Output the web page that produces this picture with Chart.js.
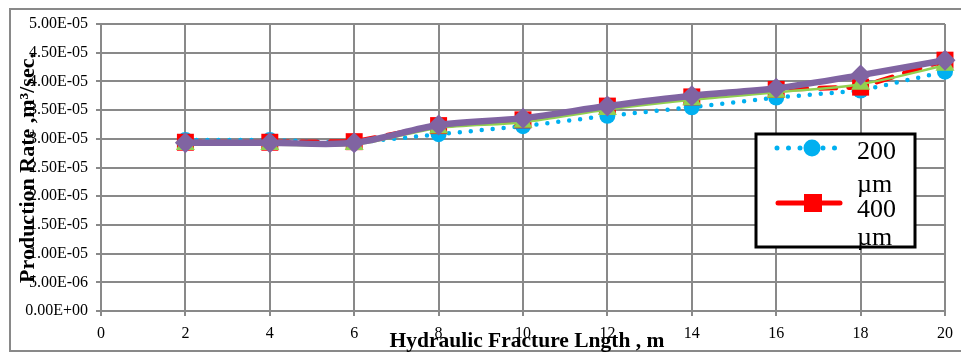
<!DOCTYPE html>
<html><head><meta charset="utf-8">
<script src="https://cdn.jsdelivr.net/npm/chart.js@4.4.1/dist/chart.umd.min.js"></script>
<style>html,body{margin:0;padding:0;background:#fff;} canvas{display:block;}</style>
</head><body>
<canvas id="c" width="961" height="352"></canvas>
<script>
// ---- data ----
const fractureLength = [2, 4, 6, 8, 10, 12, 14, 16, 18, 20];
const rate200um = [2.98e-5, 2.98e-5, 2.93e-5, 3.08e-5, 3.22e-5, 3.40e-5, 3.55e-5, 3.72e-5, 3.84e-5, 4.17e-5];
const rate400um = [2.94e-5, 2.94e-5, 2.95e-5, 3.23e-5, 3.33e-5, 3.57e-5, 3.73e-5, 3.86e-5, 3.90e-5, 4.37e-5];
const rate600um = [2.90e-5, 2.90e-5, 2.90e-5, 3.19e-5, 3.29e-5, 3.51e-5, 3.68e-5, 3.81e-5, 3.95e-5, 4.28e-5];
const rate800um = [2.93e-5, 2.93e-5, 2.93e-5, 3.24e-5, 3.36e-5, 3.57e-5, 3.75e-5, 3.88e-5, 4.11e-5, 4.37e-5];
const seriesNames = ["200 \u00b5m", "400 \u00b5m", "600 \u00b5m", "800 \u00b5m"];
const legendLines = [["200", "\u00b5m"], ["400", "\u00b5m"]];
const xAxisTitle = "Hydraulic Fracture Lngth , m";
const yAxisTitle = "Production Rate ,m\u00b3/sec.";

const FONT = "'Liberation Serif','Times New Roman',serif";
Chart.defaults.font.family = FONT;
Chart.defaults.color = '#000';

function pts(ys) { return fractureLength.map((x, i) => ({ x: x, y: ys[i] })); }
function sci(v) {
  if (Math.abs(v) < 1e-15) return '0.00E+00';
  let e = Math.floor(Math.log10(Math.abs(v)) + 1e-9);
  let m = v / Math.pow(10, e);
  if (Math.abs(m) >= 9.995) { m /= 10; e += 1; }
  const s = e < 0 ? '-' : '+';
  const a = Math.abs(e);
  return m.toFixed(2) + 'E' + s + (a < 10 ? '0' + a : '' + a);
}

const GRID = '#898989';

const decor = {
  id: 'decor',
  beforeDraw(chart) {
    const ctx = chart.ctx;
    ctx.save();
    ctx.fillStyle = '#fff';
    ctx.fillRect(0, 0, chart.width, chart.height);
    ctx.strokeStyle = GRID;
    ctx.lineWidth = 2;
    ctx.beginPath();
    ctx.moveTo(961, 9); ctx.lineTo(10, 9); ctx.lineTo(10, 351); ctx.lineTo(961, 351);
    ctx.stroke();
    ctx.restore();
  },
  afterDraw(chart) {
    const ctx = chart.ctx;
    ctx.save();
    // axis titles
    ctx.fillStyle = '#000';
    ctx.font = "bold 21.5px " + FONT;
    ctx.textAlign = 'center';
    ctx.textBaseline = 'alphabetic';
    ctx.fillText(xAxisTitle, 527, 347);
    ctx.save();
    ctx.translate(34, 168);
    ctx.rotate(-Math.PI / 2);
    ctx.font = "bold 22px " + FONT;
    ctx.fillText(yAxisTitle, 0, 0);
    ctx.restore();

    // legend
    const bx = 756, by = 134, bw = 159, bh = 113;
    ctx.fillStyle = '#fff';
    ctx.fillRect(bx, by, bw, bh);
    // entry 1: blue dotted w/ circle
    ctx.strokeStyle = '#00B0F0';
    ctx.lineWidth = 5;
    ctx.lineCap = 'round';
    ctx.setLineDash([0, 11.5]);
    ctx.beginPath(); ctx.moveTo(777, 148); ctx.lineTo(841, 148); ctx.stroke();
    ctx.setLineDash([]);
    ctx.fillStyle = '#00B0F0';
    ctx.beginPath(); ctx.arc(812, 148, 8.5, 0, Math.PI * 2); ctx.fill();
    // entry 2: red dashed w/ square
    ctx.strokeStyle = '#FF0000';
    ctx.beginPath(); ctx.moveTo(778, 203); ctx.lineTo(840, 203); ctx.stroke();
    ctx.fillStyle = '#FF0000';
    ctx.fillRect(804, 194, 18, 18);
    // text
    ctx.fillStyle = '#000';
    ctx.font = "26px " + FONT;
    ctx.textAlign = 'left';
    ctx.fillText(legendLines[0][0], 857, 159);
    ctx.fillText(legendLines[0][1], 857, 192);
    ctx.fillText(legendLines[1][0], 857, 217);
    ctx.fillText(legendLines[1][1], 857, 245);
    ctx.lineWidth = 3;
    ctx.strokeStyle = '#000';
    ctx.strokeRect(bx, by, bw, bh);
    ctx.restore();
  }
};

new Chart(document.getElementById('c'), {
  type: 'line',
  data: {
    datasets: [
      { label: seriesNames[0], data: pts(rate200um), order: 4,
        borderColor: '#00B0F0', backgroundColor: '#00B0F0', borderWidth: 4.5,
        borderDash: [0, 11], borderCapStyle: 'round',
        pointStyle: 'circle', pointRadius: 8, pointBorderWidth: 0, tension: 0, clip: false },
      { label: seriesNames[1], data: pts(rate400um), order: 3,
        borderColor: '#FF0000', backgroundColor: '#FF0000', borderWidth: 5,
        borderDash: [16, 13], borderCapStyle: 'round',
        pointStyle: 'rect', pointRadius: 12, pointBorderWidth: 0, tension: 0, clip: false },
      { label: seriesNames[2], data: pts(rate600um), order: 2,
        borderColor: '#92D050', backgroundColor: '#92D050', borderWidth: 2.5,
        pointStyle: 'triangle', pointRadius: 11, pointBorderWidth: 0, tension: 0.3, clip: false },
      { label: seriesNames[3], data: pts(rate800um), order: 1,
        borderColor: '#8064A2', backgroundColor: '#8064A2', borderWidth: 6.5,
        borderCapStyle: 'round', borderJoinStyle: 'round',
        pointStyle: 'rectRot', pointRadius: 10.5, pointBorderWidth: 0, tension: 0.3, clip: false }
    ]
  },
  options: {
    responsive: false,
    animation: false,
    devicePixelRatio: 1,
    layout: { padding: { left: 0, right: 13, top: 24, bottom: 0 } },
    plugins: { legend: { display: false }, tooltip: { enabled: false } },
    scales: {
      x: {
        type: 'linear', min: 0, max: 20,
        ticks: { stepSize: 2, color: '#000', font: { size: 16 }, padding: 8, maxRotation: 0 },
        grid: { color: GRID, lineWidth: 2, tickLength: 5, tickColor: GRID },
        border: { color: GRID, width: 2 },
        afterFit(s) { s.height = 41; }
      },
      y: {
        type: 'linear', min: 0, max: 5e-5,
        ticks: { stepSize: 5e-6, color: '#000', font: { size: 16 }, padding: 8, callback: v => sci(v) },
        grid: { color: GRID, lineWidth: 2, tickLength: 5, tickColor: GRID },
        border: { color: GRID, width: 2 },
        afterFit(s) { s.width = 101; }
      }
    }
  },
  plugins: [decor]
});
</script>
</body></html>
